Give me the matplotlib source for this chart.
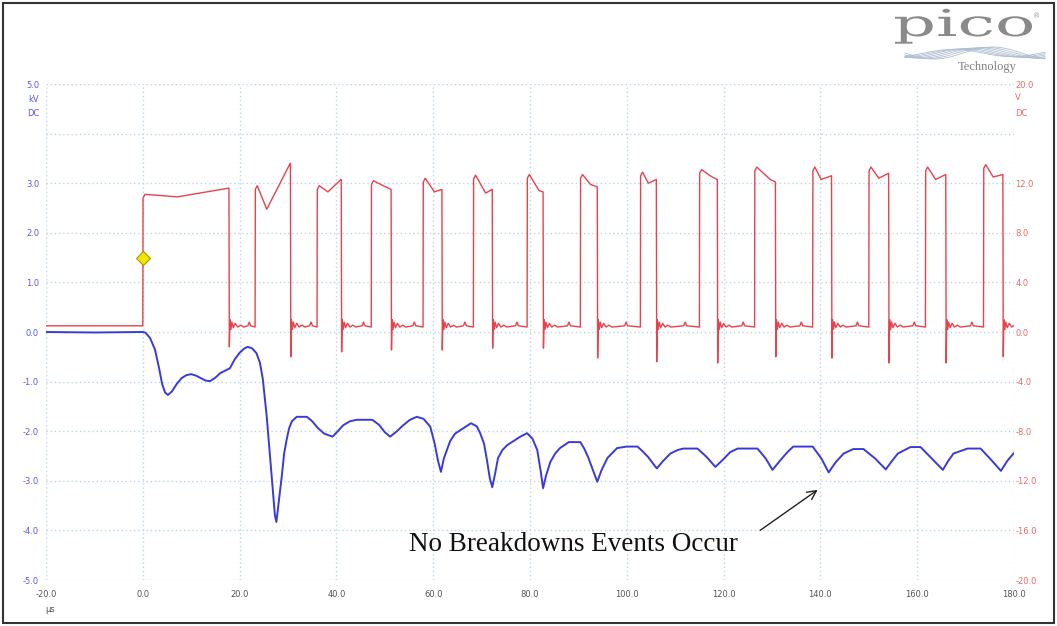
import numpy as np
import matplotlib
matplotlib.use("Agg")
import matplotlib.pyplot as plt
from matplotlib.textpath import TextPath
from matplotlib.patches import PathPatch, Rectangle
from matplotlib.font_manager import FontProperties
from matplotlib.transforms import Affine2D, IdentityTransform
from matplotlib.lines import Line2D

# ---------------- data ----------------
# Blue trace (left axis, kV) vs time (us)
blue_t = [-20, -10, 0, 0.5, 1.5, 2.5, 3.3, 4.0, 4.6, 5.2, 6.0, 7.0, 8.0, 9.0, 10.0, 11.0,
          12.0, 13.0, 13.9, 15.0, 16.0, 17.0, 18.0, 19.0, 20.0, 21.0, 21.7, 22.6, 23.5,
          24.2, 24.8, 25.6, 26.2, 26.8, 27.3, 27.6, 28.0, 28.7, 29.2, 29.7, 30.2, 30.8,
          31.8, 33.9, 35.0, 36.2, 37.5, 39.2, 40.3, 41.4, 42.8, 44.2, 47.4, 48.8, 50.0,
          51.1, 52.5, 53.8, 55.2, 56.6, 58.0, 59.4, 60.3, 61.0, 61.6, 62.2, 63.5, 64.5,
          65.6, 67.8, 69.0, 69.7, 70.5, 71.1, 71.7, 72.2, 72.8, 73.4, 74.3, 75.3, 78.0,
          79.4, 80.5, 81.5, 82.2, 82.7, 83.3, 84.2, 85.2, 86.2, 88.0, 90.4, 91.2, 92.0,
          93.0, 93.9, 94.8, 96.0, 98.0, 100.0, 102.2, 103.2, 104.4, 105.4, 106.2, 107.5,
          109.0, 110.5, 111.7, 114.6, 116.5, 118.3, 119.8, 121.4, 122.9, 127.0, 128.7,
          130.1, 131.6, 133.2, 134.4, 138.4, 140.2, 141.7, 143.2, 144.8, 146.8, 148.9,
          151.3, 153.5, 154.8, 156.0, 158.6, 160.7, 163.0, 165.3, 166.4, 167.5, 170.4,
          173.1, 175.3, 177.3, 178.6, 180.0]
blue_kv = [0.0, -0.01, 0.0, -0.01, -0.12, -0.35, -0.7, -1.05, -1.22, -1.27, -1.2, -1.05,
           -0.93, -0.87, -0.85, -0.88, -0.93, -0.98, -0.99, -0.92, -0.83, -0.78, -0.73,
           -0.55, -0.42, -0.33, -0.30, -0.33, -0.43, -0.62, -0.95, -1.7, -2.4, -3.1, -3.7,
           -3.83, -3.5, -2.92, -2.45, -2.18, -1.95, -1.80, -1.71, -1.71, -1.8, -1.94,
           -2.05, -2.11, -2.0, -1.88, -1.80, -1.77, -1.77, -1.87, -2.02, -2.11, -2.0,
           -1.88, -1.77, -1.71, -1.75, -1.91, -2.25, -2.6, -2.82, -2.55, -2.2, -2.05,
           -1.98, -1.84, -1.9, -2.04, -2.25, -2.58, -2.95, -3.13, -2.85, -2.54, -2.38,
           -2.28, -2.11, -2.04, -2.15, -2.38, -2.8, -3.15, -2.9, -2.62, -2.45, -2.34,
           -2.22, -2.22, -2.35, -2.52, -2.78, -3.02, -2.78, -2.54, -2.34, -2.31, -2.31,
           -2.40, -2.52, -2.65, -2.75, -2.6, -2.45, -2.38, -2.35, -2.35, -2.52, -2.72,
           -2.58, -2.42, -2.35, -2.35, -2.55, -2.78, -2.6, -2.42, -2.31, -2.31, -2.55,
           -2.83, -2.62, -2.45, -2.36, -2.36, -2.55, -2.77, -2.6, -2.45, -2.32, -2.32,
           -2.55, -2.78, -2.6, -2.45, -2.35, -2.35, -2.58, -2.80, -2.6, -2.44]

# Red trace (right axis, V): pulse parameters
pulse_rise = [0.0, 23.2, 36.0, 47.2, 57.9, 68.3, 79.4, 90.4, 102.8, 115.0, 126.4, 138.4, 150.0, 161.7, 173.7]
pulse_fall = [17.8, 30.5, 41.0, 51.3, 61.8, 72.2, 82.7, 93.9, 106.1, 118.7, 130.7, 142.3, 154.1, 165.9, 177.7]
pulse_peak = [11.1, 11.8, 11.8, 12.2, 12.4, 12.65, 12.7, 12.7, 12.9, 13.1, 13.3, 13.3, 13.3, 13.3, 13.5]
pulse_dip = [10.9, 9.9, 11.3, 11.8, 11.3, 11.2, 11.4, 11.9, 12.0, 12.6, 12.3, 12.3, 12.4, 12.3, 12.5]
pulse_dip_frac = [0.4, 0.33, 0.45, 0.6, 0.6, 0.65, 0.75, 0.6, 0.5, 0.6, 0.75, 0.45, 0.5, 0.5, 0.5]
pulse_end = [11.6, 13.6, 12.3, 11.5, 11.5, 11.5, 11.3, 11.7, 12.3, 12.3, 12.1, 12.6, 12.8, 12.7, 12.7]
pulse_spike = [-1.2, -2.0, -1.6, -1.45, -1.45, -1.3, -1.3, -2.1, -2.4, -2.5, -2.0, -2.1, -2.5, -2.5, -2.0]
red_pre_level = 0.5
red_base_level = 0.4
ring_dt = [0.2, 0.4, 0.6, 0.9, 1.3, 1.8, 2.4, 3.0]
ring_v = [1.0, 0.2, 0.8, 0.35, 0.7, 0.4, 0.55, 0.4]

trigger_t, trigger_kv = 0.0, 1.5

x_ticks = [-20, 0, 20, 40, 60, 80, 100, 120, 140, 160, 180]
left_ticks = [5, 3, 2, 1, 0, -1, -2, -3, -4, -5]
right_ticks = [20, 12, 8, 4, 0, -4, -8, -12, -16, -20]

# ---------------- build red polyline ----------------
red_t = [-20.0]
red_v = [red_pre_level]
for i in range(len(pulse_rise)):
    r, f = pulse_rise[i], pulse_fall[i]
    w = f - r
    lvl = red_pre_level if i == 0 else red_base_level
    red_t += [r, r + 0.05, r + 0.45, r + pulse_dip_frac[i] * w, f - 0.05, f, f + 0.08]
    red_v += [lvl, pulse_peak[i] - 0.3, pulse_peak[i], pulse_dip[i], pulse_end[i], pulse_end[i], pulse_spike[i]]
    for dt, v in zip(ring_dt, ring_v):
        red_t.append(f + dt)
        red_v.append(v)
    if i + 1 < len(pulse_rise):
        nxt = pulse_rise[i + 1]
        mid = f + 3.0 + (nxt - f - 3.0) * 0.5
        red_t += [mid - 0.3, mid, mid + 0.3]
        red_v += [0.5, 0.8, 0.5]

# ---------------- figure ----------------
W, H = 1057, 626
fig = plt.figure(figsize=(W / 100, H / 100), dpi=100)
L, R, T, B = 46, 1014, 84, 580
ax = fig.add_axes([L / W, (H - B) / H, (R - L) / W, (B - T) / H])
ax2 = ax.twinx()

grid_c = "#b9d6e6"
for t in x_ticks:
    ax.axvline(t, color=grid_c, lw=1.0, ls=(0, (1, 2)), zorder=0)
for k in range(-5, 6):
    ax.axhline(k, color=grid_c, lw=1.0, ls=(0, (1, 2)), zorder=0)

blue_c = "#3a3ad8"
red_c = "#e8424c"
ax.plot(blue_t, blue_kv, color=blue_c, lw=1.4, zorder=3)
ax2.plot(red_t, red_v, color=red_c, lw=1.0, zorder=3)
ax2.plot([trigger_t], [trigger_kv * 4], marker="D", ms=7, mfc="#f2e600", mec="#a89a00", mew=0.8, zorder=5)

ax.set_xlim(-20, 180)
ax.set_ylim(-5, 5)
ax2.set_ylim(-20, 20)
for a in (ax, ax2):
    for s in a.spines.values():
        s.set_visible(False)

ax.set_xticks(x_ticks)
ax.set_xticklabels([f"{t:.1f}" for t in x_ticks])
ax.set_yticks(left_ticks)
ax.set_yticklabels([f"{v:.1f}" for v in left_ticks])
ax2.set_yticks(right_ticks)
ax2.set_yticklabels([f"{v:.1f}" for v in right_ticks])
ax.tick_params(axis="x", length=0, pad=7, labelsize=6, labelcolor="#555555")
ax.tick_params(axis="y", length=0, pad=5, labelsize=6, labelcolor="#5a5ae0")
ax2.tick_params(axis="y", length=0, pad=1, labelsize=6, labelcolor="#e86a6a")

def px(x, y):
    return x / W, 1 - y / H

fig.text(*px(39, 99), "kV", ha="right", va="center", fontsize=6, color="#5a5ae0")
fig.text(*px(39, 114), "DC", ha="right", va="center", fontsize=6, color="#5a5ae0")
fig.text(*px(1015, 98), "V", ha="left", va="center", fontsize=6, color="#e86a6a")
fig.text(*px(1015, 113), "DC", ha="left", va="center", fontsize=6, color="#e86a6a")
fig.text(*px(50, 609), "μs", ha="center", va="center", fontsize=6, color="#555555")

# annotation
ax.text(89.0, -4.29, "No Breakdowns Events Occur", family="Liberation Serif", fontsize=19.5,
        ha="center", va="center", color="#111111", zorder=6)
ax.annotate("", xy=(139.9, -3.15), xytext=(127.1, -4.03),
            arrowprops=dict(arrowstyle="->", color="#222222", lw=1.0, mutation_scale=16), zorder=6)

# pico logo
prop = FontProperties(family="DejaVu Serif")
tp = TextPath((0, 0), "pico", size=1, prop=prop)
ext = tp.get_extents()
sx = 137 / ext.width
sy = 37
tr = Affine2D().scale(sx, sy).translate(895 - ext.x0 * sx, H - 36)
fig.add_artist(PathPatch(tr.transform_path(tp), transform=IdentityTransform(), fc="#8a8a8a", ec="none"))
fig.text(*px(1037, 16), "®", fontsize=5, color="#999999", ha="center", va="center")
xs = np.linspace(905, 1045, 120)
for k in range(7):
    ph = k * 0.35
    ys = 53 + (6 - k * 0.4) * np.sin((xs - 905) / 140 * 2 * np.pi * 1.2 + ph)
    fig.add_artist(Line2D(xs, H - ys, transform=IdentityTransform(), color="#aebfd2", lw=0.6))
fig.text(*px(987, 67), "Technology", family="Liberation Serif", fontsize=9, color="#808080",
         ha="center", va="center")

# outer border
fig.add_artist(Rectangle((3 / W, 3 / H), 1051 / W, 620 / H, transform=fig.transFigure,
                         fill=False, ec="#333333", lw=1.5))

fig.savefig("out.png", dpi=100)
